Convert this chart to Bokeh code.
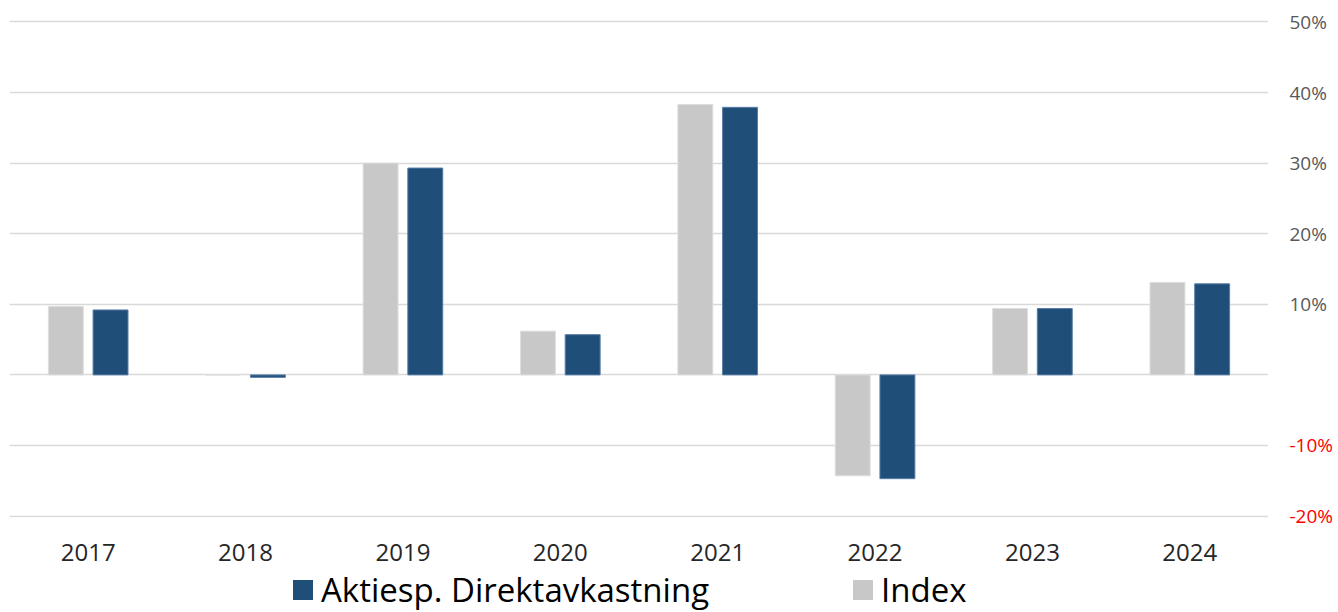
from bokeh.plotting import figure
from bokeh.models import ColumnDataSource, FactorRange, Range1d, FixedTicker, Div
from bokeh.layouts import row, column
from bokeh.core.properties import value
from bokeh.transform import dodge
from bokeh.embed import file_html
from bokeh.resources import INLINE

years = ["2017", "2018", "2019", "2020", "2021", "2022", "2023", "2024"]
index_vals = [9.7, 0.0, 30.0, 6.2, 38.3, -14.3, 9.4, 13.1]
fund_vals = [9.2, -0.35, 29.3, 5.7, 37.9, -14.7, 9.4, 12.9]
grid_ticks = [-20, -10, 0, 10, 20, 30, 40, 50]
label_ticks = [50, 40, 30, 20, 10, -10, -20]
series_names = ["Aktiesp. Direktavkastning", "Index"]
series_colors = ["#1f4e79", "#c8c8c8"]

FONT = "Open Sans"
Y0, Y1 = -20.2, 50.2
FRAME_H = 497
TOP = 20
pad_px = 12
pad_u = pad_px / (FRAME_H / (Y1 - Y0))

src = ColumnDataSource(dict(year=years, index=index_vals, fund=fund_vals))

p = figure(x_range=FactorRange(factors=years, range_padding=0),
           y_range=Range1d(Y0, Y1 + pad_u),
           frame_width=1259, frame_height=FRAME_H + pad_px,
           output_backend="svg", toolbar_location=None, y_axis_location=None,
           min_border_left=9, min_border_right=0, min_border_top=TOP - pad_px,
           min_border_bottom=12)
p.outline_line_color = None
p.background_fill_color = "white"
p.border_fill_color = "white"

p.vbar(x=dodge("year", -0.142, range=p.x_range), top="index", width=0.222,
       source=src, fill_color=series_colors[1], line_color="#dedede", line_width=1)
p.vbar(x=dodge("year", 0.142, range=p.x_range), top="fund", width=0.222,
       source=src, fill_color=series_colors[0], line_color="#5a7ea6", line_width=1)

p.xgrid.grid_line_color = None
p.ygrid.ticker = FixedTicker(ticks=grid_ticks)
p.ygrid.grid_line_color = "#d9d9d9"
p.ygrid.grid_line_width = 1.4

xa = p.xaxis[0]
xa.axis_line_color = None
xa.major_tick_line_color = None
xa.minor_tick_line_color = None
xa.major_label_standoff = 20
xa.major_label_text_font = FONT
xa.major_label_text_font_size = "24px"
xa.major_label_text_color = "#262626"

# right-hand value labels (grey for positive, red for negative), same scale as main plot
lab_src = ColumnDataSource(dict(
    y=label_ticks,
    text=[f"{t}%" for t in label_ticks],
    color=["#595959" if t > 0 else "#ff0000" for t in label_ticks],
    x=[21] * len(label_ticks)))
s = figure(x_range=Range1d(0, 70), y_range=Range1d(Y0 - pad_u, Y1 + pad_u),
           frame_width=70, frame_height=FRAME_H + 2 * pad_px,
           output_backend="svg", toolbar_location=None,
           x_axis_location=None, y_axis_location=None,
           min_border_left=0, min_border_right=0, min_border_top=TOP - pad_px,
           min_border_bottom=0)
s.outline_line_color = None
s.xgrid.grid_line_color = None
s.ygrid.grid_line_color = None
s.text(x="x", y="y", text="text", text_color="color", source=lab_src,
       text_font=value(FONT), text_font_size="19px", text_baseline="middle",
       text_align="left")

# legend as HTML
def item(name, color, left):
    return (f'<div style="position:absolute;left:{left}px;top:0;height:33px;display:flex;'
            f'align-items:center;white-space:nowrap;">'
            f'<span style="display:inline-block;width:20px;height:20px;background:{color};'
            f'margin-right:8px;"></span>'
            f'<span style="font-family:\'{FONT}\';font-size:33px;line-height:33px;color:#000;">'
            f'{name}</span></div>')

legend_html = ('<div style="position:relative;width:1338px;height:44px;margin-top:10px;">'
               + item(series_names[0], series_colors[0], 293)
               + item(series_names[1], series_colors[1], 853)
               + '</div>')
leg = Div(text=legend_html, width=1330, height=60, margin=(0, 0, 0, 0))

layout_ = column(row(p, s, spacing=0), leg, spacing=0)

open("out.html", "w").write(file_html(layout_, INLINE))
